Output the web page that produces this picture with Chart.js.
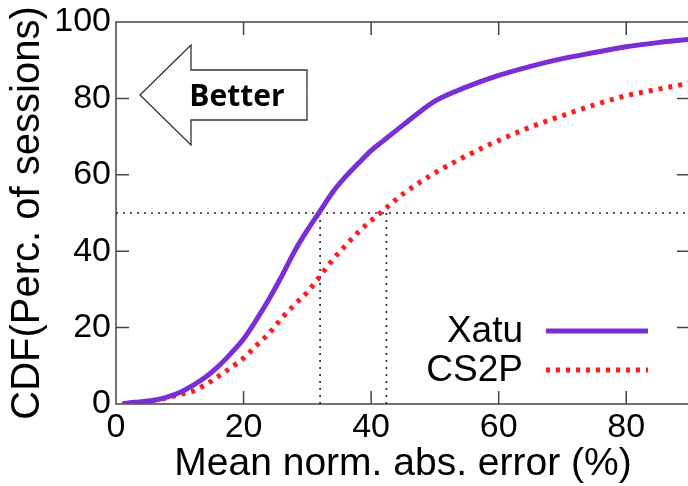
<!DOCTYPE html>
<html>
<head>
<meta charset="utf-8">
<script src="https://cdn.jsdelivr.net/npm/chart.js@4.4.1/dist/chart.umd.min.js"></script>
<style>
    html, body { margin: 0; padding: 0; background: #fff; overflow: hidden; }
    #wrap { width: 692px; height: 486px; position: relative; }
</style>
</head>
<body>
<div id="wrap"><canvas id="cdfChart"></canvas></div>
<script>
(function () {
    'use strict';

    // values
    var errorPct = [1, 2, 4, 6, 8, 10, 12, 14, 16, 18, 20, 22, 24, 26, 28, 30, 32, 34, 36, 38, 40, 42, 45, 50, 55, 60, 65, 70, 75, 80, 85, 90];
    var xatuCdf  = [0, 0.3, 0.6, 1, 1.8, 3, 4.8, 7, 9.8, 13.2, 17, 22, 27.5, 33.5, 40, 45.5, 50.5, 55.5, 59.5, 63, 66.3, 69, 73, 79.3, 83, 86, 88.4, 90.4, 92, 93.5, 94.6, 95.5];
    var cs2pCdf  = [0, 0.3, 0.6, 1, 1.6, 2.5, 3.3, 5, 7.2, 9.5, 12, 15.3, 18.5, 22.5, 26, 29.3, 33.5, 37.8, 41.5, 45, 48, 50.8, 55, 60.5, 65, 69, 72.5, 75.5, 78.3, 80.7, 82.4, 84];
    var seriesNames = ['Xatu', 'CS2P'];
    var xTicks = [0, 20, 40, 60, 80];
    var yTicks = [0, 20, 40, 60, 80, 100];
    var medianLevel = 50;
    var medianXatu = 32;
    var medianCs2p = 42.4;

    var FONT = '"Liberation Sans", Arial, Helvetica, sans-serif';

    function pts(ys) {
        return errorPct.map(function (x, i) { return { x: x, y: ys[i] }; });
    }

    var refStyle = {
        borderColor: '#222',
        borderWidth: 1.6,
        borderDash: [2, 5],
        pointRadius: 0,
        fill: false,
        isRef: true
    };

    function refLine(data) {
        return Object.assign({ data: data }, refStyle);
    }

    // frame with inward ticks, like the original plot
    var framePlugin = {
        id: 'frame',
        beforeDatasetsDraw: function (chart) {
            var ctx = chart.ctx, a = chart.chartArea;
            var xs = chart.scales.x, ys = chart.scales.y;
            var tl = 13;
            ctx.save();
            ctx.strokeStyle = '#444';
            ctx.lineWidth = 1.5;
            ctx.strokeRect(a.left, a.top, a.right - a.left, a.bottom - a.top);
            ctx.beginPath();
            xTicks.forEach(function (v) {
                if (v === 0) return;
                var px = xs.getPixelForValue(v);
                ctx.moveTo(px, a.bottom); ctx.lineTo(px, a.bottom - tl);
                ctx.moveTo(px, a.top); ctx.lineTo(px, a.top + tl);
            });
            yTicks.forEach(function (v) {
                if (v === 0 || v === 100) return;
                var py = ys.getPixelForValue(v);
                ctx.moveTo(a.left, py); ctx.lineTo(a.left + tl, py);
                ctx.moveTo(a.right, py); ctx.lineTo(a.right - tl, py);
            });
            ctx.stroke();
            ctx.restore();
        }
    };

    // "Better" arrow and legend
    var notesPlugin = {
        id: 'notes',
        afterDatasetsDraw: function (chart) {
            var ctx = chart.ctx;
            ctx.save();
            ctx.strokeStyle = '#333';
            ctx.lineWidth = 1.3;
            ctx.fillStyle = '#fff';
            ctx.beginPath();
            ctx.moveTo(140, 95);
            ctx.lineTo(191, 45);
            ctx.lineTo(191, 70);
            ctx.lineTo(307, 70);
            ctx.lineTo(307, 120);
            ctx.lineTo(191, 120);
            ctx.lineTo(191, 145);
            ctx.closePath();
            ctx.fill();
            ctx.stroke();
            ctx.fillStyle = '#000';
            ctx.font = 'bold 30px "Open Sans", Lato, sans-serif';
            ctx.textAlign = 'center';
            ctx.textBaseline = 'middle';
            ctx.fillText('Better', 237, 97);

            // legend
            ctx.font = '37px ' + FONT;
            ctx.textAlign = 'right';
            var rows = [331, 370];
            chart.data.datasets.forEach(function (ds, i) {
                if (ds.isRef) return;
                var y = rows[i];
                ctx.fillStyle = '#000';
                ctx.fillText(ds.label, 523, y + 1);
                ctx.strokeStyle = ds.borderColor;
                ctx.lineWidth = ds.borderWidth;
                ctx.setLineDash(ds.borderDash || []);
                ctx.beginPath();
                ctx.moveTo(546, y);
                ctx.lineTo(648, y);
                ctx.stroke();
            });
            ctx.restore();
        }
    };

    new Chart(document.getElementById('cdfChart'), {
        type: 'line',
        data: {
            datasets: [
                {
                    label: seriesNames[0],
                    data: pts(xatuCdf),
                    borderColor: '#7a2ed6',
                    borderWidth: 5,
                    pointRadius: 0,
                    cubicInterpolationMode: 'monotone',
                    fill: false
                },
                {
                    label: seriesNames[1],
                    data: pts(cs2pCdf),
                    borderColor: '#ff1c1c',
                    borderWidth: 5,
                    borderDash: [4, 6],
                    pointRadius: 0,
                    cubicInterpolationMode: 'monotone',
                    fill: false
                },
                refLine([{ x: 0, y: medianLevel }, { x: 90, y: medianLevel }]),
                refLine([{ x: medianXatu, y: 0 }, { x: medianXatu, y: medianLevel }]),
                refLine([{ x: medianCs2p, y: 0 }, { x: medianCs2p, y: medianLevel }])
            ]
        },
        options: {
            responsive: true,
            maintainAspectRatio: false,
            animation: false,
            layout: { padding: { top: 17, right: 2, left: 0, bottom: 0 } },
            plugins: {
                legend: { display: false },
                tooltip: { enabled: false }
            },
            scales: {
                x: {
                    type: 'linear',
                    min: 0,
                    max: 90,
                    afterBuildTicks: function (s) { s.ticks = xTicks.map(function (v) { return { value: v }; }); },
                    afterFit: function (s) { s.height = 82; },
                    grid: { display: false, drawTicks: false },
                    border: { display: false },
                    ticks: { color: '#000', padding: 7, maxRotation: 0, font: { family: FONT, size: 34, lineHeight: 1 } },
                    title: {
                        display: true,
                        text: 'Mean norm. abs. error (%)',
                        color: '#000',
                        font: { family: FONT, size: 39, lineHeight: 1 },
                        padding: { top: 0, bottom: 2 }
                    }
                },
                y: {
                    min: 0,
                    max: 100,
                    afterBuildTicks: function (s) { s.ticks = yTicks.map(function (v) { return { value: v }; }); },
                    afterFit: function (s) { s.width = 116; },
                    grid: { display: false, drawTicks: false },
                    border: { display: false },
                    ticks: { color: '#000', padding: 5, font: { family: FONT, size: 34, lineHeight: 1 } },
                    title: {
                        display: true,
                        text: 'CDF(Perc. of sessions)',
                        color: '#000',
                        font: { family: FONT, size: 40, lineHeight: 1 },
                        padding: { top: 8, bottom: 0 }
                    }
                }
            }
        },
        plugins: [framePlugin, notesPlugin]
    });
})();
</script>
</body>
</html>
